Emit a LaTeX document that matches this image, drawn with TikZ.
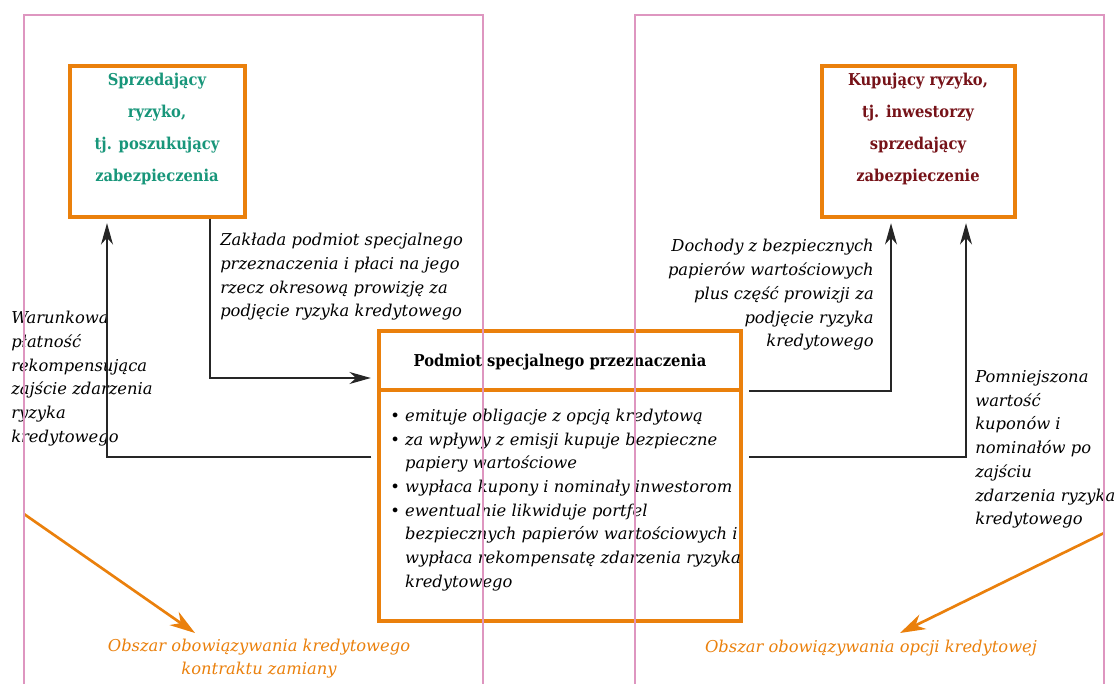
\documentclass[tikz,border=0pt]{standalone}
\usepackage{fontspec}
\setmainfont{DejaVu Serif}
\newfontfamily\bcond{DejaVu Serif Condensed}
\usetikzlibrary{arrows.meta}
\definecolor{frm}{RGB}{222,150,192}
\definecolor{org}{RGB}{234,128,12}
\definecolor{grn}{RGB}{24,150,122}
\definecolor{drd}{RGB}{118,18,24}
\tikzset{
  frame/.style={draw=frm, line width=0.9pt},
  obox/.style={draw=org, line width=2.3pt, inner sep=0pt},
  arr/.style={draw=black!85, line width=1pt, -{Stealth[length=16pt,width=9pt,inset=5pt]}},
  oarr/.style={draw=org, line width=2pt, -{Stealth[length=19pt,width=12pt,inset=6pt]}},
  lbl/.style={font=\itshape\fontsize{12.25}{17.8}\selectfont, inner sep=0pt},
  olbl/.style={lbl, text=org, align=center},
  btxt/.style={font=\bcond\bfseries\fontsize{12.25}{24}\selectfont, inner sep=0pt, align=center},
}
\begin{document}
\begin{tikzpicture}[x=0.75pt,y=-0.75pt]
\useasboundingbox (0,0) rectangle (1116,684);
% boxes
\node[obox, minimum width=131.25pt, minimum height=113.25pt] (lb) at (157.5,141.5) {};
\node[btxt, text=grn] (lbt) at (157,128.5) {Sprzedający\\ryzyko,\\tj. poszukujący\\zabezpieczenia};
\node[obox, minimum width=144.75pt, minimum height=113.25pt] (rb) at (918.5,141.5) {};
\node[btxt, text=drd] (rbt) at (918,128.5) {Kupujący ryzyko,\\tj. inwestorzy\\sprzedający\\zabezpieczenie};
\node[obox, minimum width=271.5pt, minimum height=217.5pt] (cb) at (560,476) {};
\draw[draw=org, line width=2.3pt] (cb.west |- 0,390) -- (cb.east |- 0,390);
\node[btxt, text=black] (cbt) at (560,362) {Podmiot specjalnego przeznaczenia};
\node[lbl, anchor=west, align=left] (cbl) at (390,500) {%
{\upshape\textbullet} emituje obligacje z opcją kredytową\\
{\upshape\textbullet} za wpływy z emisji kupuje bezpieczne\\
\phantom{{\upshape\textbullet} }papiery wartościowe\\
{\upshape\textbullet} wypłaca kupony i nominały inwestorom\\
{\upshape\textbullet} ewentualnie likwiduje portfel\\
\phantom{{\upshape\textbullet} }bezpiecznych papierów wartościowych i\\
\phantom{{\upshape\textbullet} }wypłaca rekompensatę zdarzenia ryzyka\\
\phantom{{\upshape\textbullet} }kredytowego};
% labels
\node[lbl, anchor=west, align=left] (l1) at (220,277) {Zakłada podmiot specjalnego\\przeznaczenia i płaci na jego\\rzecz okresową prowizję za\\podjęcie ryzyka kredytowego};
\node[lbl, anchor=west, align=left] (l2) at (11,378.5) {Warunkowa\\płatność\\rekompensująca\\zajście zdarzenia\\ryzyka\\kredytowego};
\node[lbl, anchor=east, align=right] (l3) at (874,295) {Dochody z bezpiecznych\\papierów wartościowych\\plus część prowizji za\\podjęcie ryzyka\\kredytowego};
\node[lbl, anchor=west, align=left] (l4) at (975,449.5) {Pomniejszona\\wartość\\kuponów i\\nominałów po\\zajściu\\zdarzenia ryzyka\\kredytowego};
\node[olbl] (o1) at (259,658.5) {Obszar obowiązywania kredytowego\\kontraktu zamiany};
\node[olbl] (o2) at (871,648.5) {Obszar obowiązywania opcji kredytowej};
% connectors
\draw[arr, shorten >=5pt] (lb.south -| 210,0) |- (cb.west |- 0,378);
\draw[arr, shorten <=4.5pt, shorten >=3.5pt] (cb.west |- 0,457) -| (lb.south -| 107,0);
\draw[arr, shorten <=5pt, shorten >=3.5pt] (cb.east |- 0,391) -| (rb.south -| 891,0);
\draw[arr, shorten <=5pt, shorten >=3.5pt] (cb.east |- 0,457) -| (rb.south -| 966,0);
\coordinate (s1) at (24,514);
\coordinate (e1) at (195,633);
\coordinate (s2) at (1104,533);
\coordinate (e2) at (900,633);
\draw[oarr] (s1) -- (e1);
\draw[oarr] (s2) -- (e2);
% frames
\draw[frame] (24,684) -- (24,15) -- (483,15) -- (483,684);
\draw[frame] (635,684) -- (635,15) -- (1104,15) -- (1104,684);
\end{tikzpicture}
\end{document}
